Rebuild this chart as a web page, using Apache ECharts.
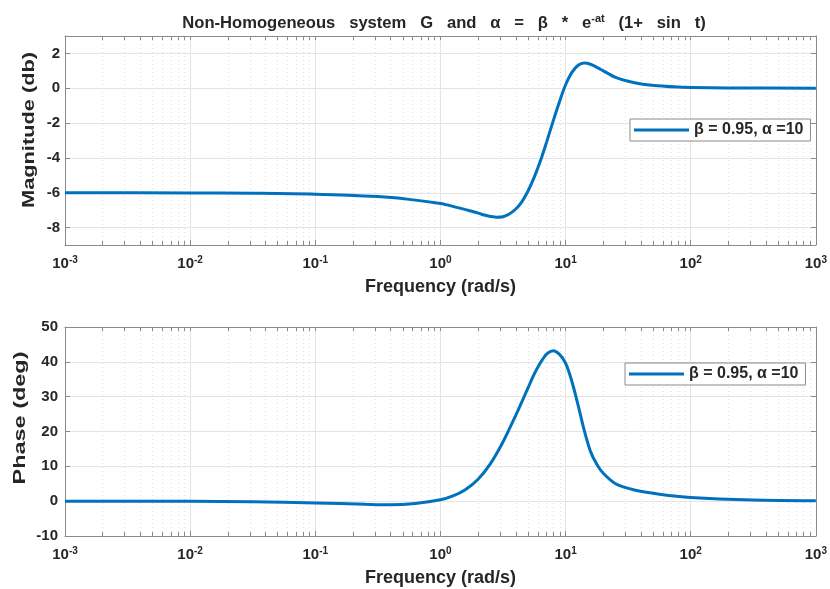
<!DOCTYPE html>
<html>
<head>
<meta charset="utf-8">
<script src="https://cdn.jsdelivr.net/npm/echarts@6/dist/echarts.min.js"></script>
<style>html,body{margin:0;padding:0;background:#fff}#c{width:830px;height:589px}</style>
</head>
<body>
<div id="c"></div>
<script>
// ---- data ----
var seriesName = 'β = 0.95, α =10';
var magFreq = [0.001, 0.01, 0.0316, 0.1, 0.316, 0.562, 1, 1.26, 1.58, 2.0, 2.24, 2.51, 2.82, 3.16, 3.55, 3.98, 4.47, 5.01, 5.62, 6.31, 7.08, 7.94, 8.91, 10, 11.2, 12.6, 14.1, 15.8, 17.8, 20, 25.1, 31.6, 44.7, 79.4, 200, 1000];
var magDb   = [-6.00, -6.01, -6.03, -6.08, -6.22, -6.38, -6.62, -6.78, -6.97, -7.17, -7.28, -7.36, -7.41, -7.38, -7.22, -6.95, -6.52, -5.9, -5.1, -4.15, -3.05, -1.9, -0.8, 0.2, 0.9, 1.32, 1.45, 1.38, 1.2, 1.0, 0.62, 0.4, 0.2, 0.07, 0.02, 0];
var phFreq = [0.001, 0.01, 0.0316, 0.1, 0.251, 0.398, 0.631, 1, 1.26, 1.58, 2.0, 2.51, 3.16, 3.98, 5.01, 5.62, 6.31, 7.08, 7.94, 8.91, 10, 11.2, 12.6, 14.1, 15.8, 17.8, 20, 25.1, 35.5, 56.2, 100, 316, 1000];
var phDeg  = [0, -0.05, -0.2, -0.5, -0.9, -1.05, -0.65, 0.4, 1.5, 3.3, 6.3, 10.8, 17.0, 24.5, 32.5, 36.5, 39.8, 42.3, 43.2, 42.2, 39.6, 34.5, 27.5, 20.3, 14.3, 10.5, 8.0, 5.0, 3.2, 2.0, 1.05, 0.3, 0.1];
var xMajor = [0.001, 0.01, 0.1, 1, 10, 100, 1000];
var xMajorExp = ['-3', '-2', '-1', '0', '1', '2', '3'];
var magTicks = [-8, -6, -4, -2, 0, 2];
var phTicks = [-10, 0, 10, 20, 30, 40, 50];

var xMinor = [];
for (var k = -3; k < 3; k++) for (var m = 2; m <= 9; m++) xMinor.push(+(m * Math.pow(10, k)).toPrecision(3));
var xAll = xMajor.concat(xMinor);

var axisColor = '#8a8a8a';
var textColor = '#262626';
var FONT = 'Liberation Sans, Arial, sans-serif';
var lineColor = '#0072BD';

function pairs(xs, ys) { return xs.map(function (x, i) { return [x, ys[i]]; }); }

function xAxes(grid) {
  var base = { type: 'log', logBase: 10, min: 0.001, max: 1000, gridIndex: grid };
  return [
    Object.assign({}, base, {
      position: 'bottom',
      axisLine: { show: true, onZero: false, lineStyle: { color: axisColor, width: 1 } },
      axisTick: { show: true, inside: true, length: 5, customValues: xMajor, lineStyle: { color: axisColor } },
      axisLabel: {
        show: true, margin: 10, customValues: xMajor,
        formatter: function (v) {
          var i = xMajor.findIndex(function (t) { return Math.abs(Math.log10(t) - Math.log10(v)) < 1e-6; });
          return '{b|10}{s|' + (i >= 0 ? xMajorExp[i] : '') + '}';
        },
        rich: {
          b: { fontFamily: FONT, fontWeight: 'bold', fontSize: 15, color: textColor, lineHeight: 18 },
          s: { fontFamily: FONT, fontWeight: 'bold', fontSize: 10, color: textColor, verticalAlign: 'top', lineHeight: 10 }
        }
      },
      splitLine: { show: true, lineStyle: { color: '#e4e4e4', width: 1, type: 'solid' } },
      name: 'Frequency (rad/s)', nameLocation: 'middle', nameGap: 33,
      nameTextStyle: { fontFamily: FONT, fontWeight: 'bold', fontSize: 18, color: textColor }
    }),
    Object.assign({}, base, {
      position: 'bottom',
      axisLine: { show: false, onZero: false },
      axisTick: { show: true, inside: true, length: 4, customValues: xMinor, lineStyle: { color: axisColor } },
      axisLabel: { show: false },
      splitLine: { show: true, lineStyle: { color: '#e0e0e0', width: 1, type: [1, 3] } }
    }),
    Object.assign({}, base, {
      position: 'top',
      axisLine: { show: true, onZero: false, lineStyle: { color: axisColor, width: 1 } },
      axisTick: { show: true, inside: true, length: 4, customValues: xAll, lineStyle: { color: axisColor } },
      axisLabel: { show: false },
      splitLine: { show: false }
    })
  ];
}

function yAxes(grid, min, max, ticks, margin) {
  return [
    {
      type: 'value', gridIndex: grid, min: min, max: max, position: 'left',
      axisLine: { show: true, onZero: false, lineStyle: { color: axisColor } },
      axisTick: { show: true, inside: true, length: 5, customValues: ticks, lineStyle: { color: axisColor } },
      axisLabel: { show: true, customValues: ticks, margin: margin, fontFamily: FONT, fontWeight: 'bold', fontSize: 15, color: textColor },
      splitLine: { show: true, lineStyle: { color: '#e4e4e4', width: 1 } }
    },
    {
      type: 'value', gridIndex: grid, min: min, max: max, position: 'right',
      axisLine: { show: true, onZero: false, lineStyle: { color: axisColor } },
      axisTick: { show: true, inside: true, length: 5, customValues: ticks, lineStyle: { color: axisColor } },
      axisLabel: { show: false },
      splitLine: { show: false }
    }
  ];
}

function legend(left, top, idx) {
  return {
    seriesIndex: idx,
    data: [{ name: seriesName, icon: 'rect' }],
    left: left, top: top, orient: 'horizontal',
    itemWidth: 55, itemHeight: 3,
    backgroundColor: '#fff', borderColor: '#8a8a8a', borderWidth: 1, borderRadius: 0,
    padding: [3, 7, 3, 4],
    selectedMode: false,
    textStyle: { fontFamily: FONT, fontWeight: 'bold', fontSize: 16, color: textColor }
  };
}

function yName(text, x, y, sx) {
  return {
    type: 'text', x: x, y: y, rotation: Math.PI / 2, scaleX: sx, scaleY: 1, silent: true,
    style: {
      text: text, font: 'bold 17px ' + FONT, fill: textColor,
      align: 'center', verticalAlign: 'middle', textAlign: 'center', textVerticalAlign: 'middle'
    }
  };
}

var chart = echarts.init(document.getElementById('c'), null, { renderer: 'canvas' });
chart.setOption({
  animation: false,
  backgroundColor: '#fff',
  title: {
    text: '{t|Non-Homogeneous   system   G   and   α   =   β   *   e}{s|-at}{t|   (1+   sin   t)}',
    left: 439, top: 8, textAlign: 'center',
    textStyle: {
      rich: {
        t: { fontFamily: FONT, fontWeight: 'bold', fontSize: 16.6, color: textColor, lineHeight: 20 },
        s: { fontFamily: FONT, fontWeight: 'bold', fontSize: 11, color: textColor, verticalAlign: 'top', lineHeight: 11 }
      }
    }
  },
  graphic: [
    yName('Magnitude (db)', 29, 130, 1.28),
    yName('Phase (deg)', 20, 418, 1.38)
  ],
  legend: [legend(630, 119, 0), legend(625, 363, 1)],
  grid: [
    { left: 65, right: 12, top: 36, height: 209 },
    { left: 65, right: 12, top: 327, height: 209 }
  ],
  xAxis: xAxes(0).concat(xAxes(1)),
  yAxis: yAxes(0, -9, 3, magTicks, 5).concat(yAxes(1, -10, 50, phTicks, 7)),
  series: [
    { name: seriesName, type: 'line', xAxisIndex: 0, yAxisIndex: 0, data: pairs(magFreq, magDb),
      showSymbol: false, smooth: 0.3, lineStyle: { color: lineColor, width: 3 }, itemStyle: { color: lineColor } },
    { name: seriesName, type: 'line', xAxisIndex: 3, yAxisIndex: 2, data: pairs(phFreq, phDeg),
      showSymbol: false, smooth: 0.3, lineStyle: { color: lineColor, width: 3 }, itemStyle: { color: lineColor } }
  ]
});
</script>
</body>
</html>
